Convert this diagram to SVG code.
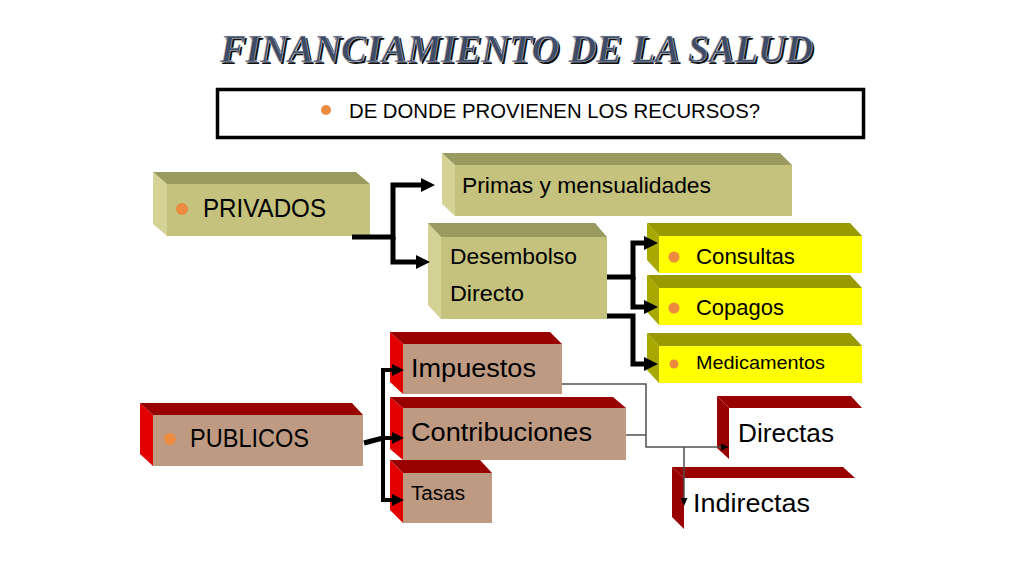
<svg xmlns="http://www.w3.org/2000/svg" width="1024" height="576" viewBox="0 0 1024 576">
<defs>
<style>
.t{font-family:"Liberation Sans",Arial,sans-serif;fill:#000}
.kf{fill:#c4c27d}.kt{fill:#999960}.ks{fill:#d4d295}
.yf{fill:#ffff00}.yt{fill:#999900}.ys{fill:#a8a800}
.rf{fill:#bf9a83}.rt{fill:#990000}.rs{fill:#e20000}
.dt{fill:#990000}
.bul{fill:#ec8a3f}
.thick{fill:none;stroke:#000;stroke-width:5;stroke-linejoin:miter}
.mid{fill:none;stroke:#000;stroke-width:4;stroke-linejoin:miter}
.thin{fill:none;stroke:#505050;stroke-width:1.5}
.title{font-family:"Liberation Serif","Times New Roman",serif;font-weight:bold;font-style:italic;font-size:39px}
</style>
<marker id="ah" markerUnits="userSpaceOnUse" markerWidth="16" markerHeight="16" refX="0" refY="7" orient="auto" viewBox="0 0 16 16">
<path d="M0,0 L14,7 L0,14 z" fill="#000"/>
</marker>
<marker id="ahm" markerUnits="userSpaceOnUse" markerWidth="14" markerHeight="14" refX="0" refY="6" orient="auto" viewBox="0 0 14 14">
<path d="M0,0 L12,6 L0,12 z" fill="#000"/>
</marker>
<marker id="ahs" markerUnits="userSpaceOnUse" markerWidth="10" markerHeight="10" refX="0" refY="3.5" orient="auto" viewBox="0 0 10 10">
<path d="M0,0 L8,3.5 L0,7 z" fill="#000"/>
</marker>
</defs>
<rect width="1024" height="576" fill="#fff"/>

<g id="title">
<text class="title" x="222" y="64" fill="#111" textLength="593" lengthAdjust="spacingAndGlyphs">FINANCIAMIENTO DE LA SALUD</text>
<text class="title" x="220" y="62" fill="#3f4c66" stroke="#d8dce4" stroke-width="0.5" textLength="593" lengthAdjust="spacingAndGlyphs">FINANCIAMIENTO DE LA SALUD</text>
</g>

<g id="question">
<rect x="217.5" y="89.5" width="646" height="48" fill="#fff" stroke="#000" stroke-width="3.5"/>
<circle class="bul" cx="326" cy="110" r="5"/>
<text class="t" x="349" y="118" font-size="20" textLength="411" lengthAdjust="spacingAndGlyphs">DE DONDE PROVIENEN LOS RECURSOS?</text>
</g>

<g id="privados">
<polygon class="ks" points="153,172 167,184 167,236 153,224"/>
<polygon class="kt" points="153,172 356,172 370,184 167,184"/>
<rect class="kf" x="167" y="184" width="203" height="52"/>
<circle class="bul" cx="182" cy="209" r="6"/>
<text class="t" x="203" y="217" font-size="25" textLength="123" lengthAdjust="spacingAndGlyphs">PRIVADOS</text>
</g>

<g id="primas">
<polygon class="ks" points="442,153 455,165 455,216 442,204"/>
<polygon class="kt" points="442,153 780,153 792,165 455,165"/>
<rect class="kf" x="455" y="165" width="337" height="51"/>
<text class="t" x="462" y="193" font-size="22" textLength="249" lengthAdjust="spacingAndGlyphs">Primas y mensualidades</text>
</g>

<g id="desembolso">
<polygon class="ks" points="428,223 441,237 441,319 428,305"/>
<polygon class="kt" points="428,223 595,223 607,237 441,237"/>
<rect class="kf" x="441" y="237" width="166" height="82"/>
<text class="t" x="450" y="264" font-size="22" textLength="127" lengthAdjust="spacingAndGlyphs">Desembolso</text>
<text class="t" x="450" y="301" font-size="22" textLength="74" lengthAdjust="spacingAndGlyphs">Directo</text>
</g>

<g id="consultas">
<polygon class="ys" points="647,223 659,236 659,273 647,260"/>
<polygon class="yt" points="647,223 850,223 862,236 659,236"/>
<rect class="yf" x="659" y="236" width="203" height="37"/>
<circle class="bul" cx="674" cy="257" r="5.5"/>
<text class="t" x="696" y="264" font-size="22" textLength="99" lengthAdjust="spacingAndGlyphs">Consultas</text>
</g>

<g id="copagos">
<polygon class="ys" points="647,275 659,288 659,325 647,312"/>
<polygon class="yt" points="647,275 850,275 862,288 659,288"/>
<rect class="yf" x="659" y="288" width="203" height="37"/>
<circle class="bul" cx="674" cy="308" r="5.5"/>
<text class="t" x="696" y="315" font-size="22" textLength="88" lengthAdjust="spacingAndGlyphs">Copagos</text>
</g>

<g id="medicamentos">
<polygon class="ys" points="647,333 659,346 659,383 647,370"/>
<polygon class="yt" points="647,333 850,333 862,346 659,346"/>
<rect class="yf" x="659" y="346" width="203" height="37"/>
<circle class="bul" cx="674" cy="364" r="4.5"/>
<text class="t" x="696" y="369" font-size="19" textLength="129" lengthAdjust="spacingAndGlyphs">Medicamentos</text>
</g>

<g id="publicos">
<polygon class="rs" points="140,403 153,415 153,466 140,454"/>
<polygon class="rt" points="140,403 352,403 363,415 153,415"/>
<rect class="rf" x="153" y="415" width="210" height="51"/>
<circle class="bul" cx="170" cy="439" r="6"/>
<text class="t" x="190" y="447" font-size="25" textLength="119" lengthAdjust="spacingAndGlyphs">PUBLICOS</text>
</g>

<g id="impuestos">
<polygon class="rs" points="390,332 403,344 403,394 390,382"/>
<polygon class="rt" points="390,332 550,332 562,344 403,344"/>
<rect class="rf" x="403" y="344" width="159" height="50"/>
<text class="t" x="411" y="377" font-size="25" textLength="125" lengthAdjust="spacingAndGlyphs">Impuestos</text>
</g>

<g id="contribuciones">
<polygon class="rs" points="390,397 403,408 403,460 390,449"/>
<polygon class="rt" points="390,397 613,397 626,408 403,408"/>
<rect class="rf" x="403" y="408" width="223" height="52"/>
<text class="t" x="411" y="441" font-size="25" textLength="181" lengthAdjust="spacingAndGlyphs">Contribuciones</text>
</g>

<g id="tasas">
<polygon class="rs" points="390,460 403,473 403,523 390,510"/>
<polygon class="rt" points="390,460 480,460 492,473 403,473"/>
<rect class="rf" x="403" y="473" width="89" height="50"/>
<text class="t" x="411" y="500" font-size="20" textLength="54" lengthAdjust="spacingAndGlyphs">Tasas</text>
</g>

<g id="directas">
<polygon class="dt" points="717,396 729,408 729,459 717,448"/>
<polygon class="dt" points="717,396 851,396 862,408 729,408"/>
<text class="t" x="738" y="442" font-size="25" textLength="96" lengthAdjust="spacingAndGlyphs">Directas</text>
</g>

<g id="indirectas">
<polygon class="dt" points="672,467 684,478 684,529 672,517"/>
<polygon class="dt" points="672,467 843,467 855,478 684,478"/>
<text class="t" x="693" y="512" font-size="25" textLength="117" lengthAdjust="spacingAndGlyphs">Indirectas</text>
</g>

<g id="connectors">
<path class="thick" d="M352,237 H393 V185 H421" marker-end="url(#ah)"/>
<path class="thick" d="M393,237 V262 H416" marker-end="url(#ah)"/>
<path class="thick" d="M607,277 H633 V243 H644" marker-end="url(#ah)"/>
<path class="thick" d="M633,277 V307 H644" marker-end="url(#ah)"/>
<path class="thick" d="M607,316 H633 V364 H644" marker-end="url(#ah)"/>
<path class="thick" d="M364,443 L383,438"/>
<path class="mid" d="M383,438 V370 H392" marker-end="url(#ahm)"/>
<path class="mid" d="M383,438 H392" marker-end="url(#ahm)"/>
<path class="mid" d="M383,438 V500 H392" marker-end="url(#ahm)"/>
<path class="thin" d="M562,384 H646 V447 H721" marker-end="url(#ahs)"/>
<path class="thin" d="M626,435 H646"/>
<path class="thin" d="M684,447 V498" marker-end="url(#ahs)"/>
</g>
</svg>
